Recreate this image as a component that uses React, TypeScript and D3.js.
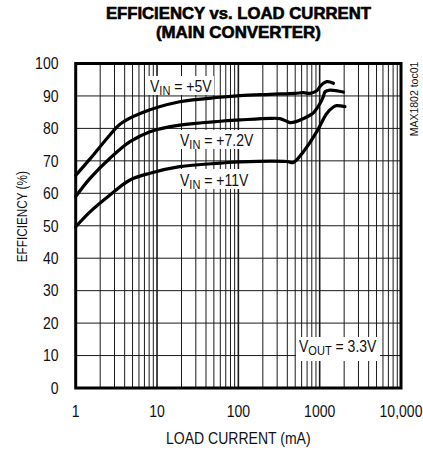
import React from "react";
import * as d3 from "d3";

const TITLE_LINES = ["EFFICIENCY vs. LOAD CURRENT", "(MAIN CONVERTER)"];
const X_TICKS = [1, 10, 100, 1000, 10000];
const X_TICK_LABELS = ["1", "10", "100", "1000", "10,000"];
const Y_TICKS = [0, 10, 20, 30, 40, 50, 60, 70, 80, 90, 100];
const X_TITLE = "LOAD CURRENT (mA)";
const Y_TITLE = "EFFICIENCY (%)";
const SIDE_NOTE = "MAX1802 toc01";

// [load current mA, efficiency %]
const VIN5: [number, number][] = [
  [1, 65.5], [1.5, 70.6], [2.6, 77.8], [3.5, 81.3], [6.2, 84.6], [19, 88.2], [60, 89.6],
  [105, 90.1], [245, 90.5], [500, 90.8], [630, 91.0], [762, 90.8], [921, 91.6],
  [1010, 92.9], [1110, 93.9], [1222, 94.4], [1342, 94.3], [1475, 93.9],
];
const VIN72: [number, number][] = [
  [1, 59], [1.5, 64.6], [2.64, 70.8], [4.65, 75.9], [8.2, 79], [19, 81], [60, 82.2],
  [105, 82.6], [245, 83.1], [325, 83.0], [400, 82.1], [432, 81.8], [500, 82.0],
  [575, 82.6], [700, 83.6], [837, 84.8], [1010, 87.7], [1110, 89.8], [1165, 91.3],
  [1342, 91.8], [1955, 91.2],
];
const VIN11: [number, number][] = [
  [1, 49.7], [1.5, 54.3], [2.64, 59.5], [4.65, 64.1], [8.2, 66.2], [19, 68.2], [60, 69.3],
  [105, 69.7], [394, 69.8], [475, 69.5], [630, 72.8], [921, 79], [1222, 84.6],
  [1475, 86.6], [1623, 87], [2045, 86.7],
];
const SERIES = [VIN5, VIN72, VIN11];

const W = 423;
const H = 451;
const L = 75.7, R = 401, T = 63.5, B = 388;
const FONT = "'Liberation Sans', Arial, sans-serif";
const SX = 0.85;

function Txt({ x, y, size = 16.5, anchor = "start", sx = SX, rotate = 0, children, weight = "normal" }: any) {
  return (
    <g transform={`translate(${x},${y}) rotate(${rotate}) scale(${sx},1)`}>
      <text textAnchor={anchor} fontSize={size} fontFamily={FONT} fontWeight={weight} fill="#111">
        {children}
      </text>
    </g>
  );
}

function Label({ x, y, main, sub, rest, box }: any) {
  return (
    <g>
      <rect x={box[0]} y={box[1]} width={box[2]} height={box[3]} fill="#fff" />
      <Txt x={x} y={y}>
        <tspan>{main}</tspan>
        <tspan fontSize={13} dy={3}>{sub}</tspan>
        <tspan dy={-3}>{rest}</tspan>
      </Txt>
    </g>
  );
}

export default function App() {
  const xs = d3.scaleLog().domain([1, 10000]).range([L, R]);
  const ys = d3.scaleLinear().domain([0, 100]).range([B, T]);
  const lineGen = d3
    .line<[number, number]>()
    .x((d) => xs(d[0]))
    .y((d) => ys(d[1]))
    .curve(d3.curveCatmullRom.alpha(0.5));

  const vVals: number[] = [];
  const decVals: number[] = [];
  for (let d = 1; d < 10000; d *= 10) {
    for (let k = 1; k <= 9; k++) {
      const v = d * k;
      if (v === 1) continue;
      if (k === 1) decVals.push(v);
      else vVals.push(v);
    }
  }
  const hVals = Y_TICKS.filter((t) => t > 0 && t < 100);
  const thinPath =
    vVals.map((v) => `M${xs(v)},${T}V${B}`).join("") +
    hVals.map((t) => `M${L},${ys(t)}H${R}`).join("");
  const thickPath = decVals.map((v) => `M${xs(v)},${T}V${B}`).join("");

  return (
    <svg width={W} height={H} style={{ position: "absolute", left: 0, top: 0, background: "#fff" }}>
      <rect x={0} y={0} width={W} height={H} fill="#fff" />
      <text x={238.4} y={18.5} textAnchor="middle" fontFamily={FONT} fontWeight="bold" fontSize={16.5}
        textLength={265} lengthAdjust="spacingAndGlyphs" stroke="#000" strokeWidth={0.6} fill="#000">
        {TITLE_LINES[0]}
      </text>
      <text x={238.4} y={38.3} textAnchor="middle" fontFamily={FONT} fontWeight="bold" fontSize={16.5}
        textLength={165} lengthAdjust="spacingAndGlyphs" stroke="#000" strokeWidth={0.6} fill="#000">
        {TITLE_LINES[1]}
      </text>

      <path d={thinPath} fill="none" stroke="#1a1a1a" strokeWidth={1} />
      <path d={thickPath} fill="none" stroke="#1a1a1a" strokeWidth={1.6} />

      {SERIES.map((s, i) => (
        <path key={i} d={lineGen(s) || ""} fill="none" stroke="#000" strokeWidth={3.2}
          strokeLinecap="round" strokeLinejoin="round" />
      ))}

      <Label x={150} y={92} main="V" sub="IN" rest=" = +5V" box={[148, 76, 66, 19]} />
      <Label x={180} y={145.5} main="V" sub="IN" rest=" = +7.2V" box={[178, 130, 79, 19]} />
      <Label x={180} y={185.5} main="V" sub="IN" rest=" = +11V" box={[178, 169, 73, 20]} />
      <Label x={299} y={352} main="V" sub="OUT" rest=" = 3.3V" box={[296, 337, 84, 24]} />

      <rect x={L} y={T} width={R - L} height={B - T} fill="none" stroke="#000" strokeWidth={3} />

      {Y_TICKS.map((t) => (
        <Txt key={"yt" + t} x={58.5} y={ys(t) + 5.8} anchor="end">{String(t)}</Txt>
      ))}
      {X_TICKS.map((t, i) => (
        <Txt key={"xt" + t} x={xs(t)} y={416.7} anchor="middle">{X_TICK_LABELS[i]}</Txt>
      ))}

      <Txt x={238.3} y={443.5} anchor="middle">{X_TITLE}</Txt>
      <Txt x={26.5} y={216.7} anchor="middle" size={14} sx={0.84} rotate={-90}>{Y_TITLE}</Txt>
      <Txt x={418} y={99} anchor="middle" size={10.5} sx={1} rotate={-90}>{SIDE_NOTE}</Txt>
    </svg>
  );
}
